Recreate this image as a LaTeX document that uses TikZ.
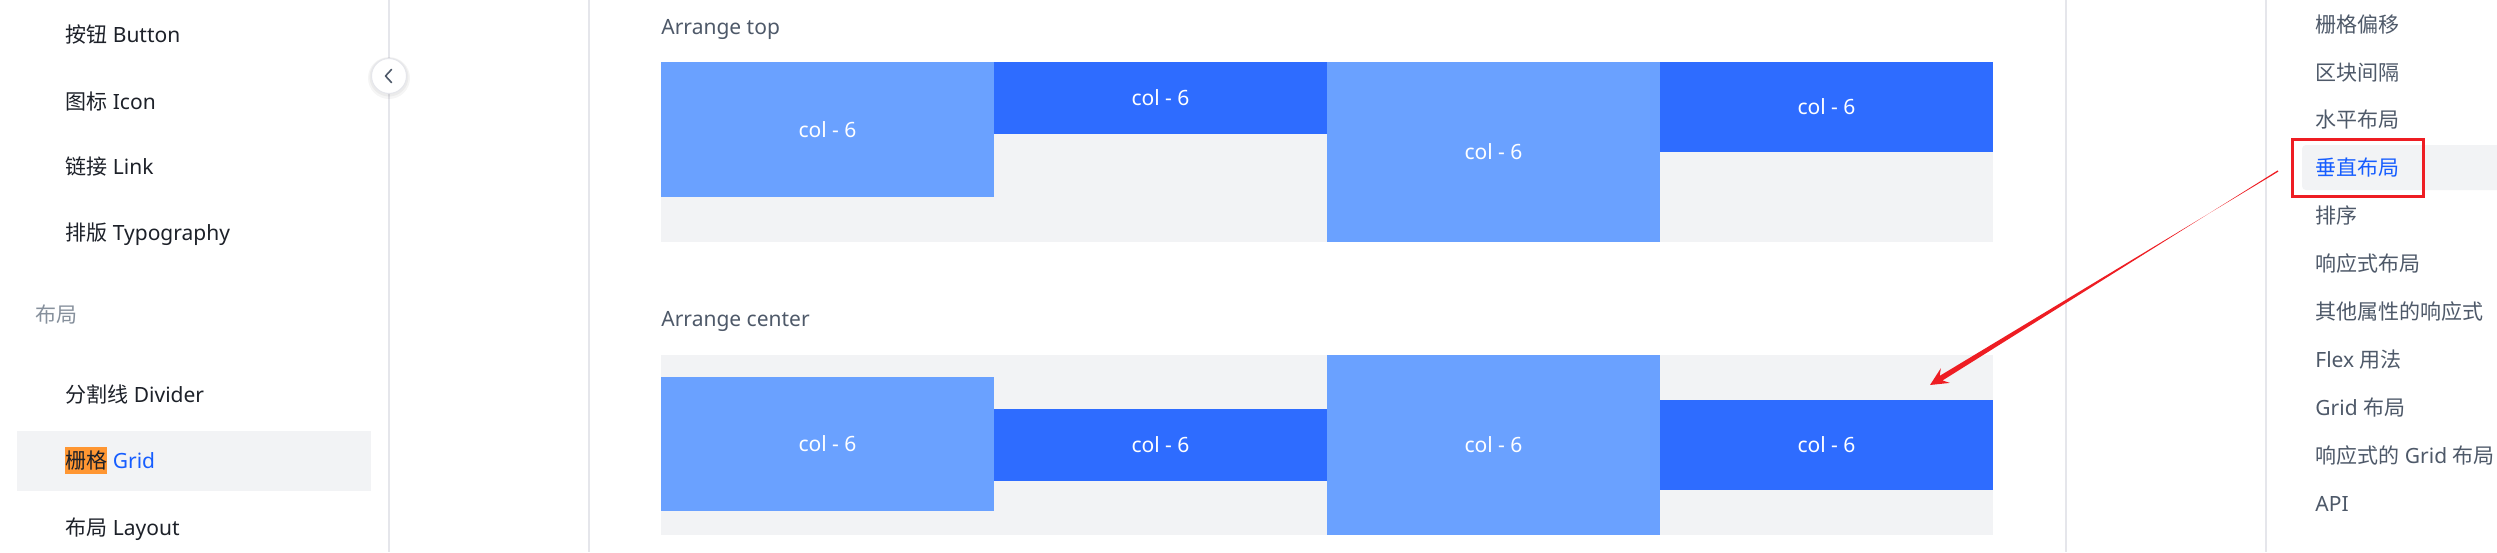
\documentclass[tikz,border=0pt]{standalone}
\usepackage{fontspec}
\setmainfont{Noto Sans}
\newfontfamily\cjk{Noto Sans CJK SC}
\usetikzlibrary{calc}
\definecolor{txtdark}{HTML}{1D2129}
\definecolor{txtgray}{HTML}{4E5969}
\definecolor{grpgray}{HTML}{86909C}
\definecolor{arcoblue}{HTML}{165DFF}
\definecolor{sepcol}{HTML}{E5E6EB}
\definecolor{fillgray}{HTML}{F2F3F5}
\definecolor{collight}{HTML}{6AA1FF}
\definecolor{coldark}{HTML}{2E6CFF}
\definecolor{hlorange}{HTML}{FF9632}
\definecolor{arrowred}{HTML}{EE1D23}
\newcommand{\cj}[1]{{\cjk #1}}
\newcommand{\colcell}[6]{%
  \fill[#5] (#1,#2) rectangle (#3,#4);
  \node[coltext] (#6) at ({(#1+#3)/2},{(#2+#4)/2}) {col - 6};}
\begin{document}
\begin{tikzpicture}[x=0.5pt,y=-0.5pt,
  basetext/.style={inner sep=0pt, font=\fontsize{10.5pt}{12pt}\selectfont, text height=0.88em, text depth=0.12em},
  sidetext/.style={basetext, anchor=west, text=txtdark},
  toctext/.style={basetext, anchor=west, text=txtgray},
  headtext/.style={basetext, anchor=west, text=txtgray},
  coltext/.style={basetext, text=white},
  sepline/.style={draw=sepcol, line width=0.75pt}]
\useasboundingbox (0,0) rectangle (2497,552);
\fill[white] (0,0) rectangle (2497,552);
% separators
\draw[sepline] (389,0) -- (389,552);
\draw[sepline] (589,0) -- (589,552);
\draw[sepline] (2066,0) -- (2066,552);
\draw[sepline] (2266,0) -- (2266,552);
% left sidebar
\fill[fillgray] (17,431) rectangle (371,491);
\node[sidetext] (sbutton) at (65,35) {\cj{按钮} Button};
\node[sidetext] (sicon) at (65,102) {\cj{图标} Icon};
\node[sidetext] (slink) at (65,167) {\cj{链接} Link};
\node[sidetext] (stypo) at (65,233) {\cj{排版} Typography};
\node[sidetext, text=grpgray] (sgroup) at (35,315) {\cj{布局}};
\node[sidetext] (sdivider) at (65,395) {\cj{分割线} Divider};
\fill[hlorange] (65,447) rectangle (107,474);
\node[sidetext] (sgrid) at (65,461) {\cj{栅格} \textcolor{arcoblue}{Grid}};
\node[sidetext] (slayout) at (65,528) {\cj{布局} Layout};
% collapse button
\fill[black, opacity=0.04] (389,78) circle (21);
\fill[black, opacity=0.04] (389,77) circle (19.5);
\filldraw[fill=white, draw=sepcol, line width=0.5pt] (389,76) circle (17.5);
\node[inner sep=0pt] (collapse) at (389,76) {};
\draw[txtgray, line width=0.8pt, line cap=round, line join=round] (391.5,69.5) -- (385.5,76) -- (391.5,82.5);
% content headings
\node[headtext] (htop) at (661,27) {Arrange top};
\node[headtext] (hcenter) at (661,319) {Arrange center};
% row 1
\fill[fillgray] (661,62) rectangle (1993,242);
\colcell{661}{62}{994}{197}{collight}{ta}
\colcell{994}{62}{1327}{134}{coldark}{tb}
\colcell{1327}{62}{1660}{242}{collight}{tc}
\colcell{1660}{62}{1993}{152}{coldark}{td}
% row 2
\fill[fillgray] (661,355) rectangle (1993,535);
\colcell{661}{377}{994}{511}{collight}{ca}
\colcell{994}{409}{1327}{481}{coldark}{cb}
\colcell{1327}{355}{1660}{535}{collight}{cc}
\colcell{1660}{400}{1993}{490}{coldark}{cd}
% right TOC
\fill[fillgray, rounded corners=2pt] (2302,145) rectangle (2510,190);
\node[toctext] (t1) at (2315,25) {\cj{栅格偏移}};
\node[toctext] (t2) at (2315,73) {\cj{区块间隔}};
\node[toctext] (t3) at (2315,120) {\cj{水平布局}};
\node[toctext, text=arcoblue] (t4) at (2315,168) {\cj{垂直布局}};
\node[toctext] (t5) at (2315,216) {\cj{排序}};
\node[toctext] (t6) at (2315,264) {\cj{响应式布局}};
\node[toctext] (t7) at (2315,312) {\cj{其他属性的响应式}};
\node[toctext] (t8) at (2315,360) {Flex \cj{用法}};
\node[toctext] (t9) at (2315,408) {Grid \cj{布局}};
\node[toctext] (t10) at (2315,456) {\cj{响应式的} Grid \cj{布局}};
\node[toctext] (t11) at (2315,504) {API};
\draw[arrowred, line width=1.5pt] (2292,139) rectangle (2423,196);
% arrow
\coordinate (astart) at (2278,171);
\coordinate (atip) at (1930,385);
\coordinate (aneck) at ($(atip)!6.5pt!(astart)$);
\coordinate (aback) at ($(atip)!9pt!(astart)$);
\fill[arrowred]
  ($(astart)!0.35pt!90:(atip)$) --
  ($(aneck)!1.35pt!-90:(atip)$) --
  ($(aback)!4.3pt!-90:(atip)$) --
  (atip) --
  ($(aback)!4.3pt!90:(atip)$) --
  ($(aneck)!1.35pt!90:(atip)$) --
  ($(astart)!0.35pt!-90:(atip)$) -- cycle;
\end{tikzpicture}
\end{document}
